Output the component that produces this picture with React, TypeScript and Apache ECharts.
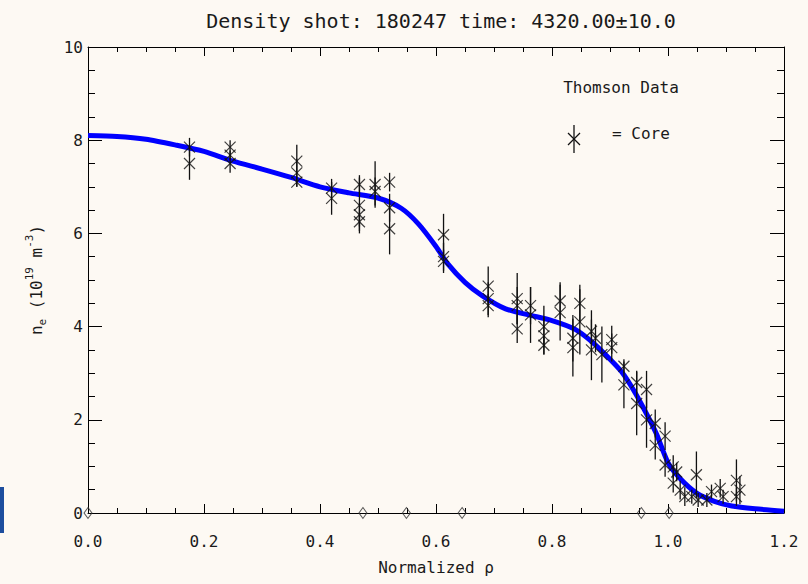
import React, { useEffect, useRef } from "react";
import * as echarts from "echarts";

// Fitted density profile (blue line)
const fitRho = [0, 0.05, 0.1, 0.15, 0.2, 0.25, 0.3, 0.35, 0.4, 0.45, 0.5, 0.54, 0.57, 0.6, 0.62, 0.65, 0.68, 0.72, 0.76, 0.8, 0.84, 0.87, 0.9, 0.92, 0.94, 0.96, 0.98, 1.0, 1.02, 1.05, 1.08, 1.11, 1.15, 1.2];
const fitNe = [8.1, 8.08, 8.02, 7.9, 7.76, 7.55, 7.38, 7.2, 7.0, 6.87, 6.76, 6.54, 6.2, 5.72, 5.35, 4.95, 4.66, 4.38, 4.25, 4.13, 3.94, 3.66, 3.3, 3.03, 2.65, 2.2, 1.7, 1.08, 0.75, 0.42, 0.25, 0.15, 0.09, 0.04];

// Thomson core data points with error bars
const coreRho = [0.175, 0.175, 0.245, 0.245, 0.245, 0.36, 0.36, 0.36, 0.42, 0.42, 0.468, 0.468, 0.468, 0.468, 0.495, 0.495, 0.52, 0.52, 0.52, 0.613, 0.613, 0.613, 0.69, 0.69, 0.69, 0.74, 0.74, 0.74, 0.763, 0.763, 0.786, 0.786, 0.786, 0.814, 0.814, 0.836, 0.836, 0.848, 0.848, 0.868, 0.868, 0.886, 0.875, 0.903, 0.903, 0.924, 0.924, 0.946, 0.946, 0.963, 0.963, 0.978, 0.978, 0.995, 0.995, 1.009, 1.015, 1.009, 1.021, 1.029, 1.041, 1.049, 1.052, 1.067, 1.075, 1.09, 1.095, 1.118, 1.124, 1.118];
const coreNe = [7.85, 7.5, 7.85, 7.68, 7.5, 7.55, 7.3, 7.1, 6.97, 6.75, 7.05, 6.6, 6.4, 6.25, 7.05, 6.9, 7.1, 6.55, 6.1, 5.97, 5.5, 5.4, 4.87, 4.6, 4.45, 4.6, 4.45, 3.95, 4.45, 4.25, 4.0, 3.8, 3.6, 4.55, 4.3, 3.75, 3.55, 4.5, 4.1, 3.9, 3.5, 3.4, 3.75, 3.72, 3.55, 3.15, 2.75, 2.8, 2.35, 2.65, 2.0, 1.92, 1.45, 1.65, 1.03, 0.99, 0.88, 0.64, 0.49, 0.35, 0.35, 0.82, 0.28, 0.28, 0.46, 0.53, 0.35, 0.7, 0.49, 0.35];
const coreErr = [0.2, 0.35, 0.15, 0.1, 0.2, 0.35, 0.3, 0.1, 0.2, 0.35, 0.2, 0.6, 0.25, 0.2, 0.5, 0.3, 0.2, 0.3, 0.55, 0.45, 0.3, 0.25, 0.42, 0.35, 0.25, 0.55, 0.4, 0.3, 0.4, 0.6, 0.45, 0.4, 0.2, 0.4, 0.6, 0.5, 0.62, 0.4, 0.7, 0.45, 0.65, 0.6, 0.3, 0.3, 0.3, 0.15, 0.5, 0.25, 0.68, 0.4, 0.6, 0.3, 0.3, 0.3, 0.25, 0.25, 0.2, 0.2, 0.2, 0.2, 0.15, 0.5, 0.15, 0.15, 0.15, 0.2, 0.15, 0.45, 0.3, 0.2];

// Zero-density points drawn as diamonds on the axis
const zeroRho = [0.0, 0.474, 0.549, 0.645, 0.954, 1.002];
const zeroNe = [0, 0, 0, 0, 0, 0];

const TITLE = "Density shot: 180247 time: 4320.00\u00b110.0";
const X_NAME = "Normalized \u03c1";
const LEGEND_TITLE = "Thomson Data";
const LEGEND_CORE = "= Core";

const FONT = "DejaVu Sans Mono";
const INK = "#1a1a1a";
const X_MARK = "path://M0,0L10,10M10,0L0,10";

export default function App() {
  const ref = useRef<HTMLDivElement>(null);
  useEffect(() => {
    if (!ref.current) return;
    const chart = echarts.init(ref.current, undefined, { renderer: "svg" });
    const axisLine = { show: true, onZero: false, lineStyle: { color: "#000", width: 1 } };
    const xCommon = {
      type: "value",
      min: 0,
      max: 1.2,
      interval: 0.2,
      axisLine,
      axisTick: { show: true, inside: true, length: 9, lineStyle: { color: "#000" } },
      minorTick: { show: true, splitNumber: 4, length: 5, lineStyle: { color: "#000" } },
      splitLine: { show: false },
      minorSplitLine: { show: false },
    };
    const yCommon = {
      type: "value",
      min: 0,
      max: 10,
      interval: 2,
      axisLine,
      axisTick: { show: true, inside: true, length: 14, lineStyle: { color: "#000" } },
      minorTick: { show: true, splitNumber: 4, length: 7, lineStyle: { color: "#000" } },
      splitLine: { show: false },
      minorSplitLine: { show: false },
    };
    const option: any = {
      animation: false,
      backgroundColor: "#fdf9f3",
      title: {
        text: TITLE,
        left: 436,
        top: 6,
        textAlign: "center",
        textStyle: { fontFamily: FONT, fontSize: 20, fontWeight: "normal", color: INK },
      },
      grid: { left: 88, right: 24, top: 47, bottom: 71 },
      xAxis: [
        {
          ...xCommon,
          position: "bottom",
          axisLabel: {
            margin: 20,
            fontFamily: FONT,
            fontSize: 16,
            color: INK,
            formatter: (v: number) => v.toFixed(1),
          },
          name: X_NAME,
          nameLocation: "middle",
          nameGap: 46,
          nameTextStyle: { fontFamily: FONT, fontSize: 16, color: INK },
        },
        { ...xCommon, position: "top", axisLabel: { show: false } },
      ],
      yAxis: [
        {
          ...yCommon,
          position: "left",
          axisLabel: { margin: 5, fontFamily: FONT, fontSize: 16, color: INK },
          name: "{n|n}{sub|e}{n| (10}{sup|19}{n| m}{sup|-3}{n|)}",
          nameLocation: "middle",
          nameGap: 40,
          nameTextStyle: {
            fontFamily: FONT,
            fontSize: 16,
            color: INK,
            padding: [0, 0, 0, 0],
            rich: {
              n: { fontFamily: FONT, fontSize: 16, color: INK, lineHeight: 24 },
              sub: { fontFamily: FONT, fontSize: 11, color: INK, lineHeight: 12, verticalAlign: "bottom" },
              sup: { fontFamily: FONT, fontSize: 11, color: INK, lineHeight: 12, verticalAlign: "top" },
            },
          },
        },
        { ...yCommon, position: "right", axisLabel: { show: false } },
      ],
      series: [
        {
          type: "line",
          name: "fit",
          data: fitRho.map((x, i) => [x, fitNe[i]]),
          showSymbol: false,
          smooth: 0.25,
          lineStyle: { color: "#0000ff", width: 5 },
          z: 2,
        },
        {
          type: "custom",
          name: "errors",
          data: coreRho.map((x, i) => [x, coreNe[i] - coreErr[i], coreNe[i] + coreErr[i]]),
          encode: { x: 0, y: [1, 2] },
          renderItem: (params: any, api: any) => {
            const lo = api.coord([api.value(0), api.value(1)]);
            const hi = api.coord([api.value(0), api.value(2)]);
            return {
              type: "line",
              shape: { x1: lo[0], y1: lo[1], x2: hi[0], y2: hi[1] },
              style: { stroke: "#111", lineWidth: 1.3 },
            };
          },
          z: 3,
        },
        {
          type: "scatter",
          name: "Core",
          data: coreRho.map((x, i) => [x, coreNe[i]]),
          symbol: X_MARK,
          symbolSize: 11,
          itemStyle: { color: "transparent", borderColor: "#111", borderWidth: 1.2 },
          z: 4,
        },
        {
          type: "scatter",
          name: "zero",
          data: zeroRho.map((x, i) => [x, zeroNe[i]]),
          symbol: "diamond",
          symbolSize: [8, 11],
          clip: false,
          itemStyle: { color: "transparent", borderColor: "#333", borderWidth: 1 },
          z: 5,
        },
      ],
      graphic: [
        {
          type: "text",
          x: 621,
          y: 87,
          style: { text: LEGEND_TITLE, font: `16px "${FONT}"`, fill: INK, align: "center", verticalAlign: "middle" },
        },
        { type: "line", shape: { x1: 574, y1: 125, x2: 574, y2: 153 }, style: { stroke: "#111", lineWidth: 1.3 } },
        { type: "line", shape: { x1: 568, y1: 133, x2: 580, y2: 145 }, style: { stroke: "#111", lineWidth: 1.2 } },
        { type: "line", shape: { x1: 580, y1: 133, x2: 568, y2: 145 }, style: { stroke: "#111", lineWidth: 1.2 } },
        {
          type: "text",
          x: 612,
          y: 133,
          style: { text: LEGEND_CORE, font: `16px "${FONT}"`, fill: INK, align: "left", verticalAlign: "middle" },
        },
        { type: "rect", shape: { x: 0, y: 487, width: 4, height: 46 }, style: { fill: "#1d4e9e" } },
      ],
    };
    chart.setOption(option);
    return () => chart.dispose();
  }, []);
  return (
    <div
      ref={ref}
      style={{ position: "fixed", left: 0, top: 0, width: 808, height: 584 }}
    />
  );
}
